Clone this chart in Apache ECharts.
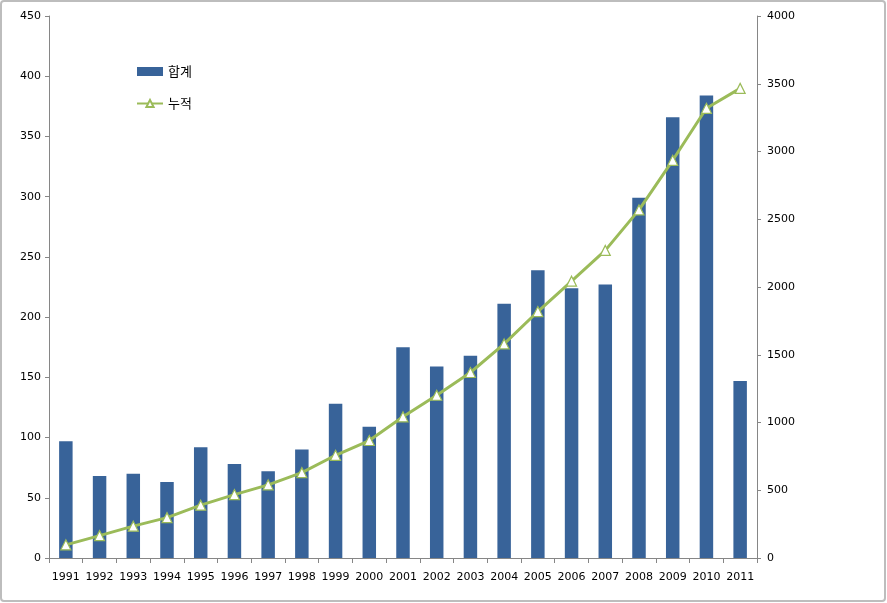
<!DOCTYPE html>
<html><head><meta charset="utf-8">
<script src="https://cdn.jsdelivr.net/npm/echarts@6/dist/echarts.min.js"></script>
<style>html,body{margin:0;padding:0;background:#fff}#c{width:887px;height:603px}</style>
</head><body><div id="c"></div>
<script>
const years = ['1991','1992','1993','1994','1995','1996','1997','1998','1999','2000','2001','2002','2003','2004','2005','2006','2007','2008','2009','2010','2011'];
const totals = [97,68,70,63,92,78,72,90,128,109,175,159,168,211,239,224,227,299,366,384,147];
const cumulative = [97,165,235,298,390,468,540,630,758,867,1042,1201,1369,1580,1819,2043,2270,2569,2935,3319,3466];
const leftTicks = {min:0,max:450,interval:50};
const rightTicks = {min:0,max:4000,interval:500};

const chart = echarts.init(document.getElementById('c'), null, {renderer:'canvas'});
const font = 'DejaVu Sans';
chart.setOption({
  animation:false,
  backgroundColor:'#fff',
  textStyle:{fontFamily:font},
  graphic:[{type:'rect',shape:{x:1,y:1,width:884,height:600,r:3},style:{fill:'none',stroke:'#bdbdbd',lineWidth:2},silent:true}],
  legend:{
    orient:'vertical', left:131, top:60, itemGap:19, itemWidth:26, itemHeight:9,
    textStyle:{fontFamily:'Noto Sans CJK KR', fontSize:13, color:'#000'},
    data:[{name:'합계',icon:'rect'},{name:'누적'}]
  },
  grid:{left:49,right:130,top:16,bottom:45,containLabel:false},
  xAxis:{
    type:'category', data:years,
    axisLine:{lineStyle:{color:'#868686'}},
    axisTick:{show:true,alignWithLabel:false,lineStyle:{color:'#868686'},length:5},
    axisLabel:{color:'#000',fontSize:11,fontFamily:font,margin:14,interval:0}
  },
  yAxis:[{
    type:'value', ...leftTicks, position:'left',
    axisLine:{show:true,lineStyle:{color:'#868686'}},
    axisTick:{show:true,lineStyle:{color:'#868686'},length:4},
    splitLine:{show:false},
    axisLabel:{color:'#000',fontSize:11,fontFamily:font,margin:8}
  },{
    type:'value', ...rightTicks, position:'right',
    axisLine:{show:true,lineStyle:{color:'#868686'}},
    axisTick:{show:true,lineStyle:{color:'#868686'},length:4},
    splitLine:{show:false},
    axisLabel:{color:'#000',fontSize:11,fontFamily:font,margin:10,formatter:v=>String(v)}
  }],
  series:[{
    name:'합계', type:'bar', data:totals, yAxisIndex:0, barWidth:'40%',
    itemStyle:{color:'#386399'}
  },{
    name:'누적', type:'line', data:cumulative, yAxisIndex:1,
    symbol:'triangle', symbolSize:10, showAllSymbol:true,
    lineStyle:{color:'#9BBB59',width:3},
    itemStyle:{color:'#ffffff',borderColor:'#9BBB59',borderWidth:1.2}
  }]
});
</script></body></html>
